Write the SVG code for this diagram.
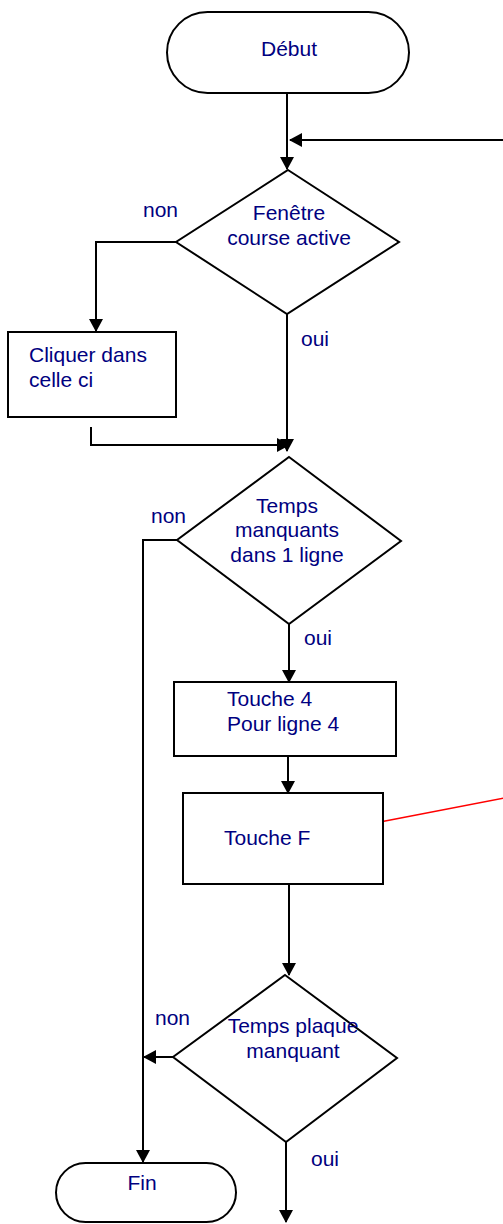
<svg xmlns="http://www.w3.org/2000/svg" width="503" height="1224" viewBox="0 0 503 1224">
<style>
.s{fill:#fff;stroke:#000;stroke-width:2}
.t{font-family:"Liberation Sans",Arial,sans-serif;font-size:21px;fill:#000080}
.m{text-anchor:middle}
.c{fill:none;stroke:#000;stroke-width:2}
</style>
<defs>
<marker id="ah" markerWidth="13" markerHeight="14" refX="12" refY="7" orient="auto" markerUnits="userSpaceOnUse">
<path d="M0,0 L13,7 L0,14 z" fill="#000"/>
</marker>
</defs>
<rect width="503" height="1224" fill="#fff"/>
<g id="connectors">
<path class="c" d="M287,93 V169" marker-end="url(#ah)"/>
<path class="c" d="M503,140 H290" marker-end="url(#ah)"/>
<path class="c" d="M176,242 H96 V331" marker-end="url(#ah)"/>
<path class="c" d="M287,314 V451" marker-end="url(#ah)"/>
<path class="c" d="M91,427 V445 H289" marker-end="url(#ah)"/>
<path class="c" d="M177,540 H143 V1162" marker-end="url(#ah)"/>
<path class="c" d="M289,624 V682" marker-end="url(#ah)"/>
<path class="c" d="M288,750 V793" marker-end="url(#ah)"/>
<path class="c" d="M289,880 V975" marker-end="url(#ah)"/>
<path class="c" d="M173,1057 H144" marker-end="url(#ah)"/>
<path class="c" d="M286,1142 V1222" marker-end="url(#ah)"/>
<path d="M380,822 L510,797" fill="none" stroke="#f00" stroke-width="1.5"/>
</g>
<g id="debut">
<rect class="s" x="167" y="12" width="242" height="81" rx="40.5"/>
<text class="t m" x="289" y="56">Début</text>
</g>
<g id="fenetre">
<polygon class="s" points="288,170 399,242 287,314 176,242"/>
<text class="t m" x="289" y="220">Fenêtre</text>
<text class="t m" x="289" y="245">course active</text>
<text class="t" x="143" y="217">non</text>
<text class="t" x="301" y="346">oui</text>
</g>
<g id="cliquer">
<rect class="s" x="8" y="332" width="168" height="85"/>
<text class="t" x="29" y="362">Cliquer dans</text>
<text class="t" x="29" y="387">celle ci</text>
</g>
<g id="temps-manquants">
<polygon class="s" points="289,457 401,541 289,624 177,540"/>
<text class="t m" x="287" y="513">Temps</text>
<text class="t m" x="287" y="537">manquants</text>
<text class="t m" x="287" y="562">dans 1 ligne</text>
<text class="t" x="151" y="523">non</text>
<text class="t" x="304" y="645">oui</text>
</g>
<g id="touche4">
<rect class="s" x="174" y="682" width="222" height="74"/>
<text class="t" x="227" y="706">Touche 4</text>
<text class="t" x="227" y="731">Pour ligne 4</text>
</g>
<g id="toucheF">
<rect class="s" x="183" y="793" width="200" height="91"/>
<text class="t" x="224" y="845">Touche F</text>
</g>
<g id="temps-plaque">
<polygon class="s" points="285,975 397,1058 286,1142 173,1057"/>
<text class="t m" x="293" y="1033">Temps plaque</text>
<text class="t m" x="293" y="1058">manquant</text>
<text class="t" x="155" y="1025">non</text>
<text class="t" x="311" y="1166">oui</text>
</g>
<g id="fin">
<rect class="s" x="56" y="1163" width="180" height="59" rx="29.5"/>
<text class="t m" x="142" y="1190">Fin</text>
</g>
</svg>
